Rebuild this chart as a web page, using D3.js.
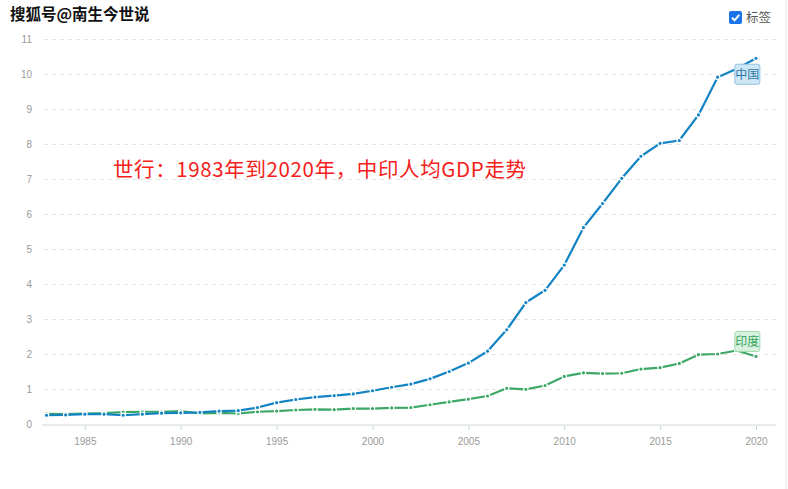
<!DOCTYPE html>
<html><head><meta charset="utf-8">
<script src="https://cdn.jsdelivr.net/npm/d3@7"></script>
<style>
html,body{margin:0;padding:0;background:#fff;}
svg{display:block;font-family:"Noto Sans CJK SC","Noto Sans",sans-serif;}
</style></head>
<body>
<svg id="c" width="788" height="489"></svg>
<script>
const years = d3.range(1983, 2021);
const china = [0.25,0.26,0.28,0.28,0.25,0.28,0.31,0.32,0.33,0.37,0.38,0.47,0.61,0.70,0.77,0.81,0.86,0.95,1.05,1.14,1.29,1.50,1.74,2.08,2.69,3.47,3.82,4.54,5.61,6.30,7.02,7.65,8.02,8.10,8.83,9.91,10.15,10.45];
const india = [0.29,0.28,0.30,0.31,0.34,0.35,0.35,0.37,0.30,0.32,0.30,0.35,0.37,0.40,0.42,0.41,0.44,0.44,0.46,0.47,0.55,0.63,0.71,0.80,1.02,0.99,1.10,1.36,1.46,1.44,1.45,1.57,1.61,1.73,1.98,2.00,2.10,1.93];
const yTicks = d3.range(0, 12);
const xTicks = [1985,1990,1995,2000,2005,2010,2015,2020];
const seriesNames = ["中国","印度"];
const title = "搜狐号@南生今世说";
const note = "世行：1983年到2020年，中印人均GDP走势";
const legendText = "标签";

const svg = d3.select("#c");
const x = d3.scaleLinear().domain([1983, 2020]).range([46.5, 756]);
const y = d3.scaleLinear().domain([0, 11]).range([424, 39]);

// right border line
svg.append("line").attr("x1",786).attr("x2",786).attr("y1",0).attr("y2",489)
  .attr("stroke","#e8ecef").attr("stroke-width",1.5);

// grid
svg.append("g").selectAll("line").data(yTicks.filter(d=>d>0)).join("line")
  .attr("x1",44).attr("x2",776).attr("y1",d=>y(d)+0.5).attr("y2",d=>y(d)+0.5)
  .attr("stroke","#e3e3e3").attr("stroke-dasharray","4,4");

// y labels
svg.append("g").selectAll("text").data(yTicks).join("text")
  .attr("x",32).attr("y",d=>y(d)+3.5).attr("text-anchor","end")
  .attr("font-size",10).attr("fill","#9a9a9a").attr("font-family","Arial, 'Liberation Sans', sans-serif")
  .text(d=>d);

// x axis
const xAxis = d3.axisBottom(x).tickValues(xTicks).tickFormat(d3.format("d")).tickSize(4).tickPadding(9);
const gx = svg.append("g").attr("transform","translate(0,425)").call(xAxis);
gx.select(".domain").attr("d","M42,0H776").attr("stroke","#e6ebee").attr("stroke-width",2);
gx.selectAll(".tick line").attr("stroke","#cfd6da").attr("transform","translate(0,1)");
gx.selectAll(".tick text").attr("fill","#9a9a9a").attr("font-size",10).attr("font-family","Arial, 'Liberation Sans', sans-serif");

const colors = ["#1283c3","#3da866"];
const data = [china, india];
const line = d3.line().x((d,i)=>x(years[i])).y(d=>y(d));

[1,0].forEach(k=>{
  const g = svg.append("g");
  g.append("path").datum(data[k]).attr("d",line).attr("fill","none")
    .attr("stroke",colors[k]).attr("stroke-width",2.2).attr("stroke-linejoin","round");
  g.selectAll("circle").data(data[k]).join("circle")
    .attr("cx",(d,i)=>x(years[i])).attr("cy",d=>y(d)).attr("r",2.2)
    .attr("fill",colors[k]).attr("stroke","#fff").attr("stroke-width",1.2);
});

// end labels
const lbl = [
  {name:seriesNames[0], v: china[china.length-1], fill:"#cfe6f4", stroke:"#8ec3e3", color:"#2a79a8", dy: 16},
  {name:seriesNames[1], v: india[india.length-1], fill:"#d9f1df", stroke:"#9fd8ad", color:"#34a357", dy: -15}
];
lbl.forEach(l=>{
  const cx = x(2019.55), cy = y(l.v) + l.dy;
  svg.append("rect").attr("x",cx-12.5).attr("y",cy-10).attr("width",25).attr("height",20).attr("rx",2)
    .attr("fill",l.fill).attr("stroke",l.stroke).attr("stroke-width",1);
  svg.append("text").attr("x",cx).attr("y",cy+4.5).attr("text-anchor","middle")
    .attr("font-size",12).attr("fill",l.color).text(l.name);
});

// watermark title
svg.append("text").attr("x",10).attr("y",20).attr("font-size",15.5).attr("font-weight","bold")
  .attr("fill","#111").attr("stroke","#fff").attr("stroke-width",2.5).attr("paint-order","stroke")
  .text(title);

// annotation
svg.append("text").attr("x",113).attr("y",177).attr("font-size",20.5).attr("fill","#f5201a")
  .attr("textLength",413).attr("lengthAdjust","spacing")
  .text(note);

// legend checkbox
const lg = svg.append("g").attr("transform","translate(729,11)");
lg.append("rect").attr("width",13).attr("height",13).attr("rx",2).attr("fill","#1a73e8");
lg.append("path").attr("d","M3,6.8 L5.6,9.3 L10.2,3.9").attr("fill","none").attr("stroke","#fff").attr("stroke-width",2);
lg.append("text").attr("x",17).attr("y",11).attr("font-size",12.5).attr("fill","#555").text(legendText);
</script>
</body></html>
